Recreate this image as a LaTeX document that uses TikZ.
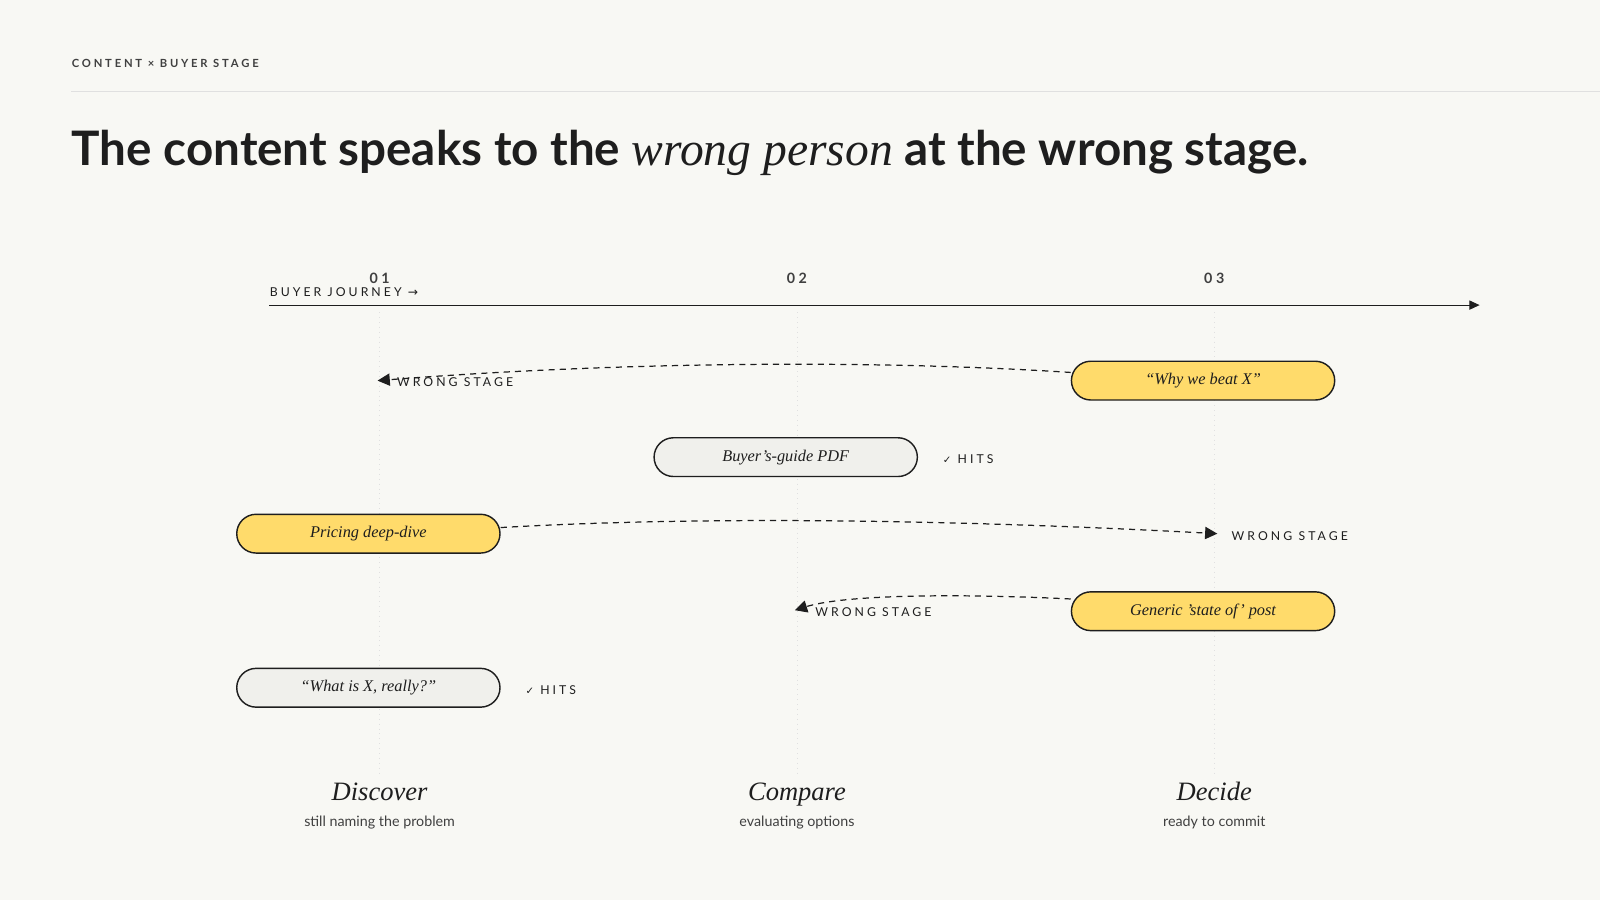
\documentclass[tikz,border=0pt]{standalone}
\usepackage{fontspec}
\setmainfont{Liberation Serif}
\newfontfamily\sans{Lato}
\newfontfamily\spaced[LetterSpace=25]{Lato}
\newfontfamily\sym{DejaVu Sans}
\usetikzlibrary{arrows.meta}
\definecolor{bg}{HTML}{F8F8F4}
\definecolor{ink}{HTML}{1E1E1E}
\definecolor{yel}{HTML}{FFDB6B}
\definecolor{gry}{HTML}{F0F0EC}
\begin{document}
\begin{tikzpicture}[x=0.5pt,y=-0.5pt,
 pill/.style={draw=ink,line width=0.7pt,rounded corners=9.5pt,minimum width=129pt,minimum height=19pt,inner sep=0pt,font=\itshape\fontsize{8}{9}\selectfont,text=ink},
 hot/.style={pill,fill=yel},
 ok/.style={pill,fill=gry},
 lab/.style={anchor=west,font=\spaced\fontsize{6}{7}\selectfont,text=ink},
 miss/.style={dashed,dash pattern=on 3pt off 2.5pt,line width=0.6pt,draw=ink,-{Triangle[length=6pt,width=6pt]}},
 guide/.style={draw=black!12,line width=0.4pt,dotted}]
\fill[bg] (0,0) rectangle (1568,882);
\useasboundingbox (0,0) rectangle (1568,882);
\node[anchor=west,inner sep=0pt,font=\spaced\bfseries\fontsize{5.5}{6}\selectfont,text=ink!85] (hdr) at (70,62) {CONTENT × BUYER STAGE};
\draw[black!12,line width=0.4pt] (70,90) -- (1568,90);
\node[anchor=west,inner sep=0pt,font=\sans\bfseries\fontsize{23.3}{27}\selectfont,text=ink] (title) at (70,150) {The content speaks to the {\rmfamily\itshape\mdseries wrong person} at the wrong stage.};
% axis
\coordinate (a0) at (264,299);
\coordinate (a1) at (1450,299);
\draw[ink,line width=0.5pt,-{Triangle[length=5pt,width=4.5pt]}] (a0) -- (a1);
\node[anchor=south west,inner sep=0pt,font=\spaced\fontsize{6}{7}\selectfont,text=ink] (bj) at (264,291) {BUYER JOURNEY {\sym→}};
\foreach \x/\n in {372/01,781/02,1190/03}{
 \node[font=\spaced\bfseries\fontsize{7}{8}\selectfont,text=ink!85] (n\n) at (\x,273) {\n};
 \draw[guide] (\x,306) -- (\x,760);
}
% pills
\node[hot] (why) at (1179,373) {“Why we beat X”};
\node[ok] (guide) at (770,448) {Buyer's-guide PDF};
\node[hot] (price) at (361,523) {Pricing deep-dive};
\node[hot] (gen) at (1179,599) {Generic 'state of' post};
\node[ok] (what) at (361,674) {“What is X, really?”};
% targets
\coordinate (t1) at (370,373);
\coordinate (t2) at (1193,523);
\coordinate (t3) at (779,598);
\draw[miss] ([yshift=4pt]why.west) .. controls (850,352) and (600,355) .. (t1);
\draw[miss] ([yshift=3pt]price.east) .. controls (700,505) and (950,510) .. (t2);
\draw[miss] ([yshift=6pt]gen.west) .. controls (950,582) and (830,582) .. (t3);
\node[lab] (w1) at (382,374) {WRONG STAGE};
\node[lab] (w2) at (1200,525) {WRONG STAGE};
\node[lab] (w3) at (792,600) {WRONG STAGE};
\node[lab] (h1) at (917,450) {{\sym\fontsize{5}{6}\selectfont ✓} HITS};
\node[lab] (h2) at (508,676) {{\sym\fontsize{5}{6}\selectfont ✓} HITS};
% stages
\foreach \x/\s/\d in {372/Discover/still naming the problem,781/Compare/evaluating options,1190/Decide/ready to commit}{
 \node[anchor=base,font=\itshape\fontsize{13}{15}\selectfont,text=ink] at (\x,784) {\s};
 \node[anchor=base,font=\sans\fontsize{7}{8}\selectfont,text=ink!85] at (\x,810) {\d};
}
\end{tikzpicture}
\end{document}
